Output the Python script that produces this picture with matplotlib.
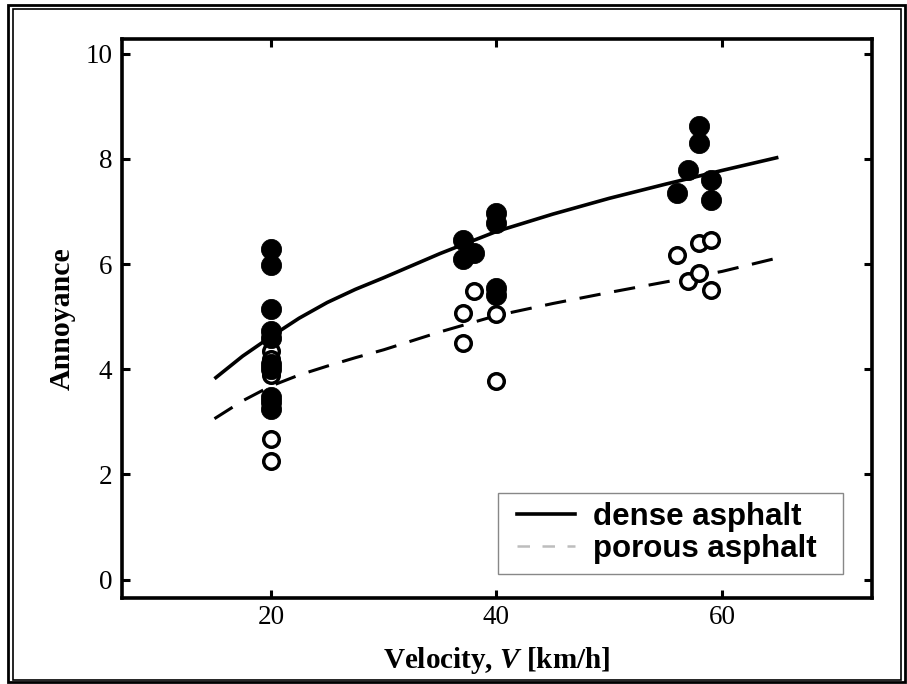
"""
Annoyance versus vehicle velocity for dense and porous asphalt.

Scanned-figure style: serif tick labels, thick spines, inward ticks on all
sides, double frame around the whole figure. Saves out.png.
"""

import matplotlib

matplotlib.use("Agg")
import matplotlib.pyplot as plt
from matplotlib.lines import Line2D
from matplotlib.patches import Rectangle

# measured points, dense asphalt (filled markers)
dense_v = [20, 20, 20, 20, 20, 20, 20, 20, 20, 20,
           37, 37, 38, 40, 40, 40, 40,
           56, 57, 58, 58, 59, 59]
dense_a = [6.28, 5.98, 5.14, 4.72, 4.60, 4.10, 4.00, 3.48, 3.38, 3.25,
           6.46, 6.10, 6.21, 6.97, 6.78, 5.55, 5.42,
           7.35, 7.78, 8.62, 8.31, 7.60, 7.22]

# measured points, porous asphalt (open markers)
porous_v = [20, 20, 20, 20, 20,
            37, 37, 38, 40, 40,
            56, 57, 58, 58, 59, 59]
porous_a = [4.35, 4.20, 3.90, 2.68, 2.26,
            5.07, 4.50, 5.48, 5.05, 3.78,
            6.18, 5.67, 6.40, 5.83, 6.45, 5.50]

# fitted curves
curve_v = [15, 17.5, 20, 22.5, 25, 27.5, 30, 35, 40, 45, 50, 55, 60, 65]
dense_curve = [3.82, 4.25, 4.62, 4.97, 5.27, 5.52, 5.74, 6.20, 6.62, 6.95,
               7.25, 7.52, 7.78, 8.03]
porous_curve = [3.06, 3.40, 3.68, 3.89, 4.06, 4.22, 4.37, 4.71, 5.02, 5.25,
                5.46, 5.66, 5.86, 6.12]

x_ticks = [20, 40, 60]
y_ticks = [0, 2, 4, 6, 8, 10]

W, H = 907, 684

plt.rcParams["mathtext.fontset"] = "custom"
plt.rcParams["mathtext.it"] = "Liberation Serif:italic:bold"
plt.rcParams["mathtext.rm"] = "Liberation Serif:bold"

fig = plt.figure(figsize=(W / 100, H / 100), dpi=100)
ax = fig.add_axes([122 / W, 1 - 598 / H, (872 - 122) / W, (598 - 39) / H])

ax.plot(curve_v, dense_curve, color="black", lw=2.6, solid_capstyle="butt",
        solid_joinstyle="round", zorder=2)
ax.plot(curve_v, porous_curve, color="black", lw=2.2, dashes=(7, 4.5), zorder=2)

ax.plot(porous_v, porous_a, "o", ms=11.2, mfc="white", mec="black", mew=2.5,
        ls="none", zorder=3)
ax.plot(dense_v, dense_a, "o", ms=14.5, mfc="black", mec="black", mew=0.6,
        ls="none", zorder=4)

ax.set_xlim(6.8, 73.3)
ax.set_ylim(-0.35, 10.28)
ax.set_xticks(x_ticks)
ax.set_yticks(y_ticks)

for side in ax.spines.values():
    side.set_linewidth(2.6)
ax.tick_params(direction="in", top=True, right=True, length=5.5, width=2.2)
ax.tick_params(axis="y", pad=7)
ax.tick_params(axis="x", pad=5)
for lab in ax.get_xticklabels() + ax.get_yticklabels():
    lab.set_fontfamily("Liberation Serif")
    lab.set_fontsize(19.5)

ax.set_xlabel("Velocity, $V$ [km/h]", fontfamily="Liberation Serif",
              fontweight="bold", fontsize=21, labelpad=11)
ax.set_ylabel("Annoyance", fontfamily="Liberation Serif", fontweight="bold",
              fontsize=21.5, labelpad=7)

# legend: entries without frame, box drawn separately so it can be wider
handles = [
    Line2D([], [], color="black", lw=2.6),
    Line2D([], [], color="#bdbdbd", lw=1.8, dashes=(5, 5)),
]
leg = ax.legend(handles, ["dense asphalt", "porous asphalt"], loc="center",
                bbox_to_anchor=(667 / W, 1 - 533 / H), bbox_transform=fig.transFigure,
                frameon=False, handlelength=1.85, handletextpad=0.6,
                borderpad=0, labelspacing=0.05, borderaxespad=0,
                prop={"family": "Liberation Sans", "weight": "bold", "size": 22.5})
leg.set_zorder(6)
ax.add_patch(Rectangle((498 / W, 1 - 574 / H), (843 - 498) / W, (574 - 493) / H,
                       transform=fig.transFigure, fc="white", ec="#888888",
                       lw=1.0, zorder=5))

# double frame around the figure
fig.add_artist(Rectangle((8 / W, 1 - 682 / H), (905 - 8) / W, (682 - 5) / H,
                         transform=fig.transFigure, fill=False, lw=2.0, ec="black"))
fig.add_artist(Rectangle((12.5 / W, 1 - 680 / H), (901 - 12.5) / W, (680 - 8.5) / H,
                         transform=fig.transFigure, fill=False, lw=1.2, ec="black"))

fig.savefig("out.png", dpi=100)
plt.close(fig)
